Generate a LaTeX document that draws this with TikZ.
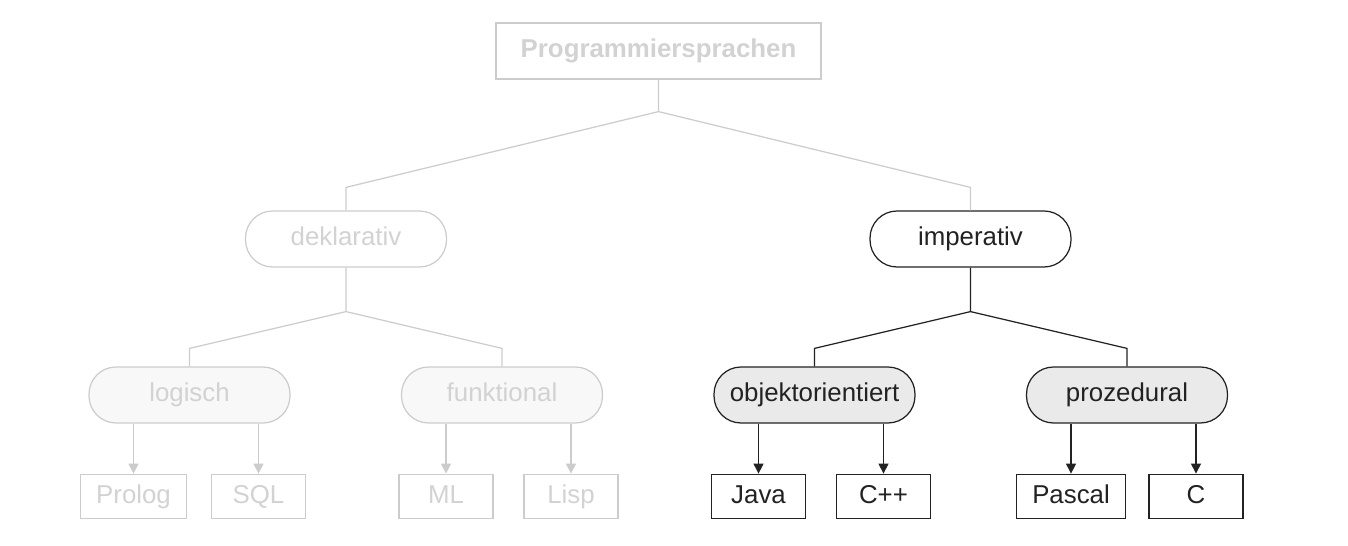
\documentclass[tikz,border=0pt]{standalone}
\usepackage{fontspec}
\setmainfont{Liberation Sans}
\usetikzlibrary{positioning, arrows.meta}
\definecolor{fadeline}{HTML}{CCCCCC}
\definecolor{fadetext}{HTML}{D2D2D2}
\definecolor{fadefill}{HTML}{F8F8F8}
\definecolor{hifill}{HTML}{EAEAEA}
\definecolor{ink}{HTML}{222222}

\begin{document}
\begin{tikzpicture}[
x=0.02cm, y=-0.02cm,
font=\fontsize{14.7}{17}\selectfont,
every node/.style={inner sep=0pt, text height=0.37cm, text depth=0.09cm},
rootnode/.style={rectangle, draw=fadeline, text=fadetext, line width=0.7pt, font=\fontsize{14.7}{17}\selectfont\bfseries, minimum width=6.5cm, minimum height=1.12cm},
pillnode/.style={rectangle, rounded corners=0.54cm, line width=0.7pt, minimum width=4.02cm, minimum height=1.12cm},
leafnode/.style={rectangle, line width=0.7pt, inner xsep=0.32cm, minimum width=1.88cm, minimum height=0.88cm},
faded/.style={draw=fadeline, text=fadetext},
darknode/.style={draw=ink, text=ink},
fadedline/.style={draw=fadeline, line width=0.7pt},
darkline/.style={draw=ink, line width=0.7pt},
arrowline/.style={-{Triangle[length=0.2cm, width=0.2cm]}},
]
    \useasboundingbox (0,0) rectangle (1348,546);

    \node[rootnode]                          (root)    at (658.5,51)                               {Programmiersprachen};
    \node[pillnode, faded]                   (dekl)    at (346,239)                                {deklarativ};
    \node[pillnode, darknode]                (imp)     at (970.5,239)                              {imperativ};
    \node[pillnode, faded, fill=fadefill]    (logisch) at (189.5,395)                              {logisch};
    \node[pillnode, faded, fill=fadefill]    (funkt)   at (502,395)                                {funktional};
    \node[pillnode, darknode, fill=hifill]   (objekt)  at (814.5,395)                              {objektorientiert};
    \node[pillnode, darknode, fill=hifill]   (prozed)  at (1127,395)                               {prozedural};

    \node[leafnode, faded]                   (prolog)  [below=1cm of logisch, xshift=-1.12cm]      {Prolog};
    \node[leafnode, faded]                   (sql)     [below=1cm of logisch, xshift=1.38cm]       {SQL};
    \node[leafnode, faded]                   (ml)      [below=1cm of funkt, xshift=-1.12cm]        {ML};
    \node[leafnode, faded]                   (lisp)    [below=1cm of funkt, xshift=1.38cm]         {Lisp};
    \node[leafnode, darknode]                (java)    [below=1cm of objekt, xshift=-1.12cm]       {Java};
    \node[leafnode, darknode]                (cpp)     [below=1cm of objekt, xshift=1.38cm]        {C++};
    \node[leafnode, darknode]                (pascal)  [below=1cm of prozed, xshift=-1.12cm]       {Pascal};
    \node[leafnode, darknode]                (clang)   [below=1cm of prozed, xshift=1.38cm]        {C};

    \coordinate (jroot) at ([yshift=-0.64cm]root.south);
    \coordinate (jdekl) at ([yshift=-0.88cm]dekl.south);
    \coordinate (jimp)  at ([yshift=-0.88cm]imp.south);

    \draw[fadedline] (root) -- (jroot) -- ([yshift=0.46cm]dekl.north) -- (dekl);
    \draw[fadedline] (jroot) -- ([yshift=0.46cm]imp.north) -- (imp);
    \draw[fadedline] (dekl) -- (jdekl) -- ([yshift=0.36cm]logisch.north) -- (logisch);
    \draw[fadedline] (jdekl) -- ([yshift=0.36cm]funkt.north) -- (funkt);
    \draw[darkline] (imp) -- (jimp) -- ([yshift=0.36cm]objekt.north) -- (objekt);
    \draw[darkline] (jimp) -- ([yshift=0.36cm]prozed.north) -- (prozed);

    \draw[fadedline, arrowline] (logisch.south -| prolog) -- (prolog);
    \draw[fadedline, arrowline] (logisch.south -| sql) -- (sql);
    \draw[fadedline, arrowline] (funkt.south -| ml) -- (ml);
    \draw[fadedline, arrowline] (funkt.south -| lisp) -- (lisp);
    \draw[darkline, arrowline] (objekt.south -| java) -- (java);
    \draw[darkline, arrowline] (objekt.south -| cpp) -- (cpp);
    \draw[darkline, arrowline] (prozed.south -| pascal) -- (pascal);
    \draw[darkline, arrowline] (prozed.south -| clang) -- (clang);
\end{tikzpicture}
\end{document}
